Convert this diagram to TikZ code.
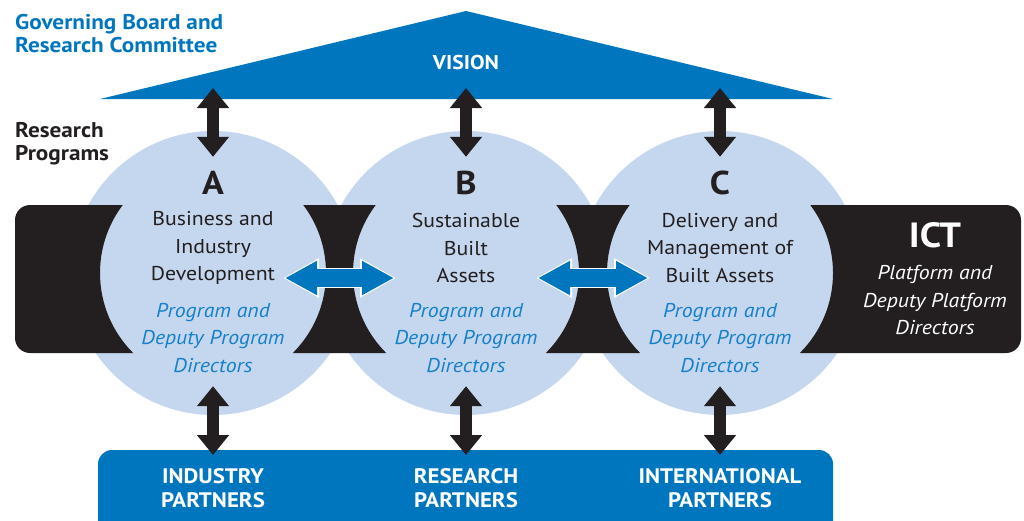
\documentclass[tikz,border=0pt]{standalone}
\usepackage{fontspec}
\setmainfont{PT Sans}[FakeStretch=1.09]
\usetikzlibrary{arrows.meta}
\definecolor{visionblue}{RGB}{0,118,190}
\definecolor{progfill}{RGB}{197,215,238}
\definecolor{dirblue}{RGB}{22,128,200}
\definecolor{ictblack}{RGB}{35,31,32}

\begin{document}
\begin{tikzpicture}[
  x=1pt, y=-1pt,
  prog/.style={circle, fill=progfill, minimum size=284pt, inner sep=0pt},
  letter/.style={inner sep=0pt, text=ictblack, font=\fontsize{33}{33}\selectfont\bfseries},
  topic/.style={align=center, inner sep=0pt, text=ictblack, font=\fontsize{20}{27.5}\selectfont},
  lead/.style={align=center, inner sep=0pt, text=dirblue, font=\fontsize{20}{27.5}\selectfont\itshape},
  partner/.style={align=center, inner sep=0pt, text=white, font=\fontsize{21}{24}\selectfont\bfseries},
  side/.style={align=left, anchor=north west, inner sep=0pt, font=\fontsize{21.3}{23.5}\selectfont\bfseries},
  vlink/.style={ictblack, line width=12pt,
    {Triangle[width=31pt,length=20pt]}-{Triangle[width=31pt,length=20pt]}},
  hlink/.style={visionblue, line width=18pt, shorten <=72pt, shorten >=72pt,
    {Triangle[width=32pt,length=32pt]}-{Triangle[width=32pt,length=32pt]},
    preaction={draw=white, line width=20pt, shorten <=70pt, shorten >=70pt,
      {Triangle[width=37pt,length=36pt]}-{Triangle[width=37pt,length=36pt]}}}
]
  \useasboundingbox (0,0) rectangle (1024,520);

  % Vision roof and partner base
  \fill[visionblue] (100,99) -- (466,11) -- (833,99) -- cycle;
  \node[partner, font=\fontsize{20}{20}\selectfont\bfseries] (vision) at (466,62) {VISION};
  \node[fill=visionblue, rounded corners=14pt, minimum width=735pt, minimum height=100pt,
    inner sep=0pt] (base) at (465.5,500) {};

  % Research program circles
  \node[prog] (progA) at (213,273) {};
  \node[prog] (progB) at (466,273) {};
  \node[prog] (progC) at (720,273) {};

  % ICT band behind the programs
  \begin{scope}
    \clip[rounded corners=15pt] (15,205) rectangle (1021,353);
    \fill[ictblack, even odd rule] (0,200) rectangle (1024,360)
      (progA) circle (113pt) (progB) circle (113pt) (progC) circle (113pt);
  \end{scope}

  % Headings on the left
  \node[side, text=visionblue] (board) at (15,14) {Governing Board and\\Research Committee};
  \node[side, text=ictblack] (programs) at (15,122) {Research\\Programs};

  % Program A
  \node[letter] (letA) at (213,183) {A};
  \node[topic] (topA) at (213,248) {Business and\\Industry\\Development};
  \node[lead] (dirA) at (213,338) {Program and\\Deputy Program\\Directors};

  % Program B
  \node[letter] (letB) at (466,183) {B};
  \node[topic] (topB) at (466,248) {Sustainable\\Built\\Assets};
  \node[lead] (dirB) at (466,338) {Program and\\Deputy Program\\Directors};

  % Program C
  \node[letter] (letC) at (720,183) {C};
  \node[topic] (topC) at (720,248) {Delivery and\\Management of\\Built Assets};
  \node[lead] (dirC) at (720,338) {Program and\\Deputy Program\\Directors};

  % ICT platform
  \node[letter, text=white, font=\fontsize{35}{35}\selectfont\bfseries] (ict) at (935,235) {ICT};
  \node[lead, text=white] (ictdir) at (935,300) {Platform and\\Deputy Platform\\Directors};

  % Partners
  \node[partner] (indP) at (213,488) {INDUSTRY\\PARTNERS};
  \node[partner] (resP) at (466,488) {RESEARCH\\PARTNERS};
  \node[partner] (intP) at (720,488) {INTERNATIONAL\\PARTNERS};

  % Arrow ends on the roof and the base
  \coordinate (vA) at (213,88);
  \coordinate (vB) at (466,88);
  \coordinate (vC) at (720,88);
  \coordinate (bA) at (213,455);
  \coordinate (bB) at (466,455);
  \coordinate (bC) at (720,455);

  % Draw links
  \draw[vlink] (vA) -- ([yshift=-26pt]progA.north);
  \draw[vlink] (vB) -- ([yshift=-26pt]progB.north);
  \draw[vlink] (vC) -- ([yshift=-26pt]progC.north);
  \draw[vlink] ([yshift=29pt]progA.south) -- (bA);
  \draw[vlink] ([yshift=29pt]progB.south) -- (bB);
  \draw[vlink] ([yshift=29pt]progC.south) -- (bC);
  \draw[hlink] ([yshift=-5pt]progA.center) -- ([yshift=-5pt]progB.center);
  \draw[hlink] ([yshift=-5pt]progB.center) -- ([yshift=-5pt]progC.center);

\end{tikzpicture}
\end{document}
